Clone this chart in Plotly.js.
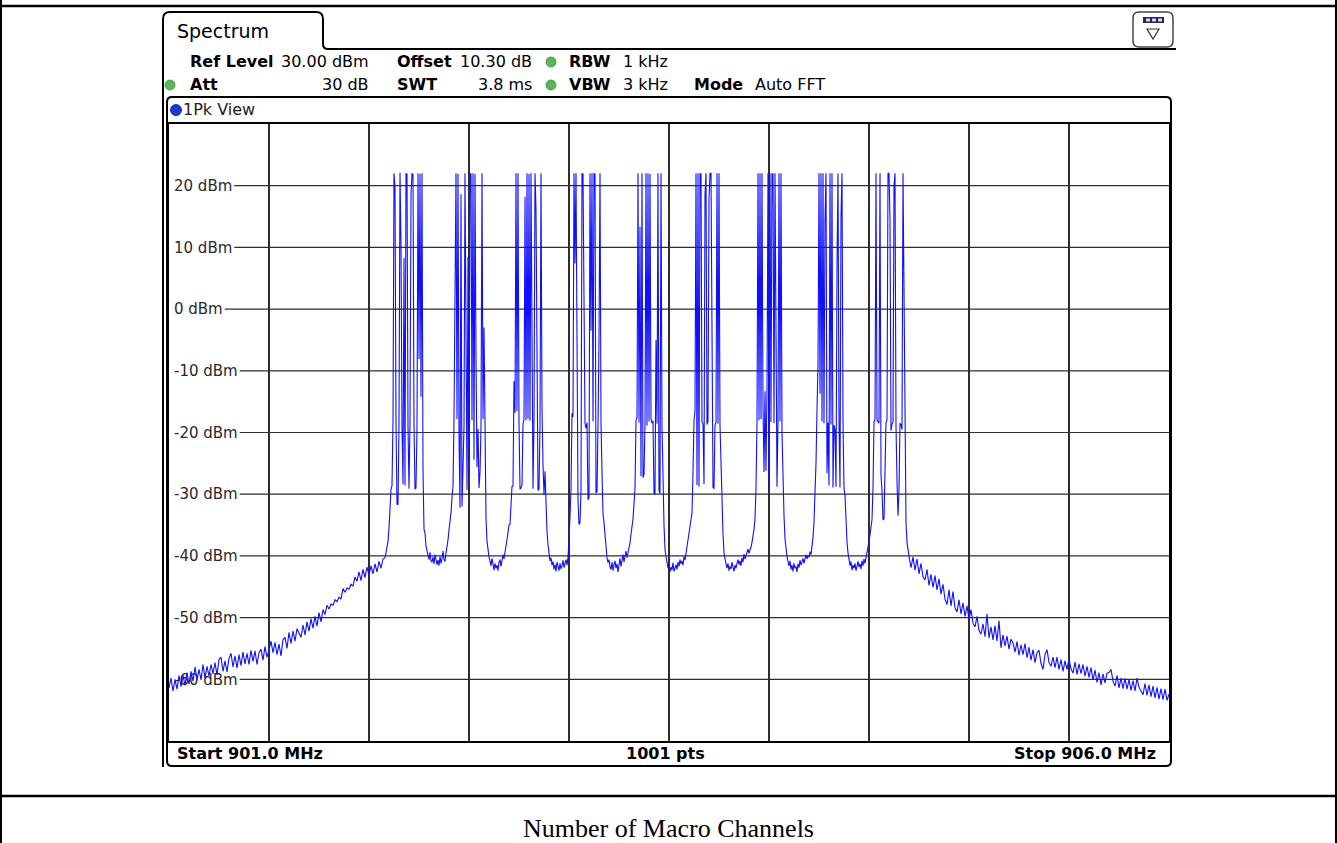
<!DOCTYPE html>
<html>
<head>
<meta charset="utf-8">
<script src="https://cdn.plot.ly/plotly-3.0.1.min.js"></script>
<style>
  html, body { margin: 0; padding: 0; background: #ffffff; }
  #chart { width: 1337px; height: 843px; }
</style>
</head>
<body>
<div id="chart"></div>
<script>
// Sweep settings shown in the analyzer header
const startMHz = 901.0;
const stopMHz = 906.0;
const sweepPoints = 1001;

// Lower skirt: 901.00 .. 902.07 MHz, one reading every 0.01 MHz
const lowSkirtStartMHz = 901.00;
const lowSkirtStepMHz = 0.01;
const lowSkirtDbm = [
  -61.4,-59.8,-61.9,-60.0,-61.6,-59.4,-61.2,-59.3,-61.0,-58.9,
  -60.8,-58.7,-60.3,-58.0,-60.0,-58.4,-60.1,-57.6,-59.8,-57.9,
  -59.5,-57.6,-59.1,-57.3,-59.3,-56.8,-56.4,-58.7,-57.0,-58.8,
  -56.6,-55.8,-58.0,-56.2,-58.2,-56.0,-57.8,-55.6,-57.5,-55.8,
  -57.6,-55.3,-57.1,-55.4,-57.6,-55.7,-55.1,-56.9,-54.7,-56.4,
  -55.3,-53.8,-55.7,-54.0,-56.0,-54.3,-56.2,-53.6,-53.2,-55.0,
  -52.4,-54.2,-52.2,-53.8,-51.8,-52.5,-53.2,-51.2,-52.8,-50.7,
  -52.2,-50.2,-51.7,-49.8,-51.4,-49.2,-50.7,-48.7,-49.5,-48.0,
  -48.6,-47.8,-48.0,-47.1,-47.4,-46.7,-47.0,-45.3,-45.9,-45.2,
  -45.4,-44.6,-44.9,-43.4,-44.1,-42.6,-44.0,-42.2,-43.5,-41.8,
  -43.1,-41.6,-42.9,-41.3,-42.6,-40.9,-42.0,-40.5
];

// Macro-channel band: 902.080 .. 904.700 MHz at the full 0.005 MHz sweep resolution
const bandStartMHz = 902.080;
const bandStepMHz = 0.005;
const bandDbm = [
  -40.3,-39.5,-38.5,-37.6,-35.5,-32.5,-29.2,-28.6,-18.2,22.0,
  19.8,-18.4,-31.6,-31.7,-18.6,22.1,10.2,-19.0,-28.4,8.3,
  -28.6,22.0,21.9,-18.9,-29.1,-18.1,18.6,22.0,21.8,-18.5,
  -29.2,-29.0,-19.3,22.0,-8.1,21.9,-14.2,22.0,-26.0,-35.7,
  -36.3,-38.4,-39.6,-39.9,-40.6,-39.4,-40.8,-41.0,-40.2,-41.3,
  -39.8,-40.9,-41.4,-40.7,-41.6,-40.1,-41.2,-40.4,-39.2,-40.6,
  -40.9,-39.5,-38.6,-37.4,-35.8,-34.6,-33.0,-30.5,-28.7,-17.6,
  -1.2,22.0,-17.8,21.9,-19.8,-32.2,18.6,-32.0,-25.7,-19.1,
  22.0,-18.6,-29.3,8.5,-27.1,22.0,21.9,-18.0,22.0,-24.4,
  21.9,-7.9,-25.6,-19.4,-29.0,-26.5,-19.2,22.0,-17.8,-3.0,
  -25.7,-33.8,-37.6,-39.5,-40.2,-40.8,-41.6,-40.4,-41.9,-42.3,
  -41.2,-42.0,-41.5,-42.4,-41.0,-40.6,-41.7,-40.9,-39.8,-40.5,
  -39.6,-38.5,-37.3,-36.2,-35.0,-34.9,-31.5,-28.7,-28.7,-11.7,
  -16.8,22.0,-16.5,22.0,-18.4,-29.2,-29.0,-28.4,-18.6,-17.9,
  18.2,-18.0,22.0,-17.8,21.9,-18.1,22.0,-18.3,-29.1,-18.0,
  22.0,16.0,-18.6,-29.4,-29.2,-18.7,22.0,-16.3,-25.2,-30.1,
  -26.3,-32.0,-36.0,-38.2,-39.6,-40.8,-40.3,-41.5,-40.9,-42.2,
  -41.4,-42.5,-41.0,-41.8,-42.4,-41.2,-42.1,-41.6,-40.7,-41.9,
  -41.3,-40.6,-41.5,-40.2,-37.8,-33.4,-29.2,-16.9,-17.5,22.0,
  7.4,22.0,-18.6,-30.8,-34.9,-34.6,-29.5,22.0,21.9,-5.9,
  -18.5,-19.3,-18.4,-30.9,-30.5,22.0,-3.5,22.0,-18.2,22.0,
  21.9,-29.8,-29.6,-18.9,-5.0,22.0,-18.4,-26.5,-33.2,-34.6,
  -37.0,-39.5,-40.3,-41.1,-40.6,-41.8,-42.2,-41.0,-42.4,-41.5,
  -40.8,-42.0,-41.3,-42.6,-41.2,-40.4,-41.7,-40.9,-39.8,-41.0,
  -40.1,-39.2,-40.3,-39.6,-38.8,-37.9,-36.5,-35.4,-34.0,-31.6,
  -29.0,-18.0,-17.6,22.0,-18.4,13.3,-27.1,22.0,-27.3,-26.8,
  -18.6,22.0,-18.9,22.0,-18.2,21.9,-17.8,-18.5,-18.1,-29.8,
  -30.0,-5.0,-18.6,22.0,-29.4,-29.9,22.0,-18.8,-29.7,-35.0,
  -39.0,-40.2,-41.5,-42.0,-41.3,-42.6,-41.8,-42.3,-41.1,-42.5,
  -42.0,-41.4,-42.2,-41.0,-41.7,-40.6,-41.3,-40.8,-41.5,-40.1,
  -40.7,-39.6,-39.0,-38.1,-37.0,-36.0,-34.5,-33.0,-26.5,-18.0,
  -16.5,22.0,-28.5,22.0,-28.8,22.0,21.9,-18.3,-18.6,-28.4,
  18.6,22.0,-18.7,-18.2,17.8,22.0,22.0,-18.6,-28.9,-29.1,
  -18.8,-18.4,22.0,-18.6,22.0,-18.9,-26.6,-32.5,-36.5,-39.5,
  -40.8,-41.3,-42.0,-41.2,-42.4,-41.7,-42.1,-41.0,-41.8,-42.5,
  -41.5,-42.0,-41.2,-40.6,-41.4,-40.8,-41.6,-40.3,-41.0,-39.7,
  -40.5,-40.1,-39.4,-38.9,-39.6,-39.0,-38.6,-37.8,-36.9,-35.7,
  -34.0,-29.0,-18.3,22.0,-18.0,22.0,-17.8,22.0,-15.7,-26.4,
  -13.3,-26.2,-13.0,22.0,-28.9,22.0,-18.3,22.0,21.9,-18.5,
  22.0,-18.6,-28.8,-18.4,22.0,-18.2,22.0,-20.0,-29.7,-33.5,
  -37.2,-39.2,-40.1,-40.9,-41.6,-40.8,-42.2,-41.5,-42.5,-41.2,
  -42.0,-41.7,-42.6,-41.3,-41.9,-40.7,-41.5,-41.0,-40.4,-41.2,
  -40.6,-39.8,-40.5,-39.9,-40.2,-39.3,-39.8,-38.6,-37.0,-34.5,
  -30.0,-25.0,-16.3,-9.0,22.0,-13.7,22.0,-18.2,22.0,-18.5,
  14.2,22.0,-26.6,-18.4,-28.6,22.0,-18.7,22.0,-28.9,-18.8,
  -19.5,-28.8,6.6,22.0,-18.1,-28.9,15.0,22.0,-18.2,-29.1,
  -30.2,-34.7,-37.8,-39.5,-40.8,-41.6,-40.9,-42.3,-41.5,-42.0,
  -41.2,-42.4,-41.7,-40.9,-41.8,-41.3,-42.1,-40.8,-41.6,-40.5,
  -41.2,-40.4,-39.8,-38.9,-37.7,-36.6,-35.3,-34.1,-28.9,-18.3,
  -17.9,22.0,-18.0,-18.2,-18.5,22.0,-26.9,-29.5,-34.1,-34.0,
  -26.0,-18.4,-18.0,22.0,22.0,14.6,-19.7,-18.6,-18.4,20.0,
  22.0,-19.0,-27.8,-33.5,-29.2,-18.5,-18.7,-19.5,22.0,-0.7,
  -27.5,-34.6,-37.8,-39.2,-40.1
];

// Upper skirt: 904.71 .. 906.00 MHz, one reading every 0.01 MHz
const highSkirtStartMHz = 904.71;
const highSkirtStepMHz = 0.01;
const highSkirtDbm = [
  -41.9,-40.2,-42.3,-40.5,-42.9,-41.2,-43.4,-43.9,-42.2,-44.8,
  -43.0,-45.1,-43.2,-45.5,-43.7,-46.2,-44.6,-47.0,-47.9,-45.5,
  -48.1,-45.8,-48.4,-49.1,-47.1,-49.4,-47.6,-49.8,-48.1,-50.3,
  -48.7,-50.9,-51.5,-49.8,-52.1,-52.7,-51.0,-53.1,-49.4,-53.3,
  -51.5,-53.6,-51.3,-53.8,-50.5,-54.9,-52.8,-54.6,-53.0,-55.1,
  -53.5,-54.1,-55.6,-53.9,-56.1,-54.4,-56.0,-54.2,-56.5,-54.8,
  -56.9,-55.2,-57.3,-55.7,-55.3,-57.4,-58.4,-56.0,-55.2,-57.3,
  -57.9,-56.4,-58.1,-56.4,-58.4,-56.8,-58.7,-57.0,-58.4,-56.7,
  -58.3,-59.0,-57.2,-59.2,-57.5,-59.1,-57.6,-59.5,-57.9,-59.7,
  -58.1,-60.1,-58.5,-60.5,-58.9,-60.9,-59.1,-60.6,-59.0,-58.9,
  -58.4,-60.3,-61.1,-59.4,-61.4,-59.8,-61.5,-59.9,-61.6,-60.0,
  -61.8,-60.2,-61.9,-59.8,-61.3,-62.0,-62.5,-60.7,-62.6,-60.9,
  -62.8,-61.1,-63.0,-61.3,-63.2,-61.5,-63.3,-61.6,-63.4,-62.4
];

// Level axis: reference level 30 dBm, 10 dB per division
const levelTicksDbm = [-60, -50, -40, -30, -20, -10, 0, 10, 20];
const levelRangeDbm = [-70, 30];

// ---- assemble the 1Pk trace ----
const freq = [];
const level = [];
function addSegment(startF, stepF, values) {
  values.forEach(function (v, i) {
    freq.push(+(startF + i * stepF).toFixed(4));
    level.push(v);
  });
}
addSegment(lowSkirtStartMHz, lowSkirtStepMHz, lowSkirtDbm);
addSegment(bandStartMHz, bandStepMHz, bandDbm);
addSegment(highSkirtStartMHz, highSkirtStepMHz, highSkirtDbm);

// ---- page geometry (pixels) ----
const W = 1337, H = 843;
const PL = 169, PR = 1169, PT = 124, PB = 741;
const px = function (x) { return (x - PL) / (PR - PL); };
const py = function (y) { return (PB - y) / (PB - PT); };

function pathPx(cmds) {
  return cmds.map(function (c) {
    const pts = [];
    for (let i = 1; i < c.length; i += 2) pts.push(px(c[i]).toFixed(5) + ',' + py(c[i + 1]).toFixed(5));
    return c[0] + ' ' + pts.join(' ');
  }).join(' ');
}
function roundRect(x0, y0, x1, y1, r) {
  return pathPx([
    ['M', x0 + r, y0], ['L', x1 - r, y0], ['Q', x1, y0, x1, y0 + r],
    ['L', x1, y1 - r], ['Q', x1, y1, x1 - r, y1],
    ['L', x0 + r, y1], ['Q', x0, y1, x0, y1 - r],
    ['L', x0, y0 + r], ['Q', x0, y0, x0 + r, y0]
  ]) + ' Z';
}
function pathShape(path, color, width, fill) {
  return { type: 'path', xref: 'paper', yref: 'paper', path: path,
    line: { color: color, width: width }, fillcolor: fill || 'rgba(0,0,0,0)', layer: 'above' };
}
function lineShape(x0, y0, x1, y1, color, width) {
  return { type: 'line', xref: 'paper', yref: 'paper', x0: px(x0), y0: py(y0), x1: px(x1), y1: py(y1),
    line: { color: color, width: width }, layer: 'above' };
}
function dot(cx, cy, r, fill, edge) {
  return { type: 'circle', xref: 'paper', yref: 'paper',
    x0: px(cx - r), x1: px(cx + r), y0: py(cy + r), y1: py(cy - r),
    fillcolor: fill, line: { color: edge, width: 0.8 }, layer: 'above' };
}
function rectShape(x0, y0, x1, y1, fill) {
  return { type: 'rect', xref: 'paper', yref: 'paper', x0: px(x0), x1: px(x1), y0: py(y1), y1: py(y0),
    fillcolor: fill, line: { width: 0 }, layer: 'above' };
}

const UI = 'DejaVu Sans, Verdana, sans-serif';
const TICK_SIZE = 15;
function label(text, x, y, anchor, size, color, family) {
  return { xref: 'paper', yref: 'paper', x: px(x), y: py(y), xanchor: anchor, yanchor: 'middle',
    text: text, showarrow: false, borderpad: 0,
    font: { family: family || UI, size: size, color: color || '#000' } };
}

// Level labels sit inside the plot; each horizontal grid line starts where its label ends.
const tickText = levelTicksDbm.map(function (v) { return v + ' dBm'; });
const measure = document.createElement('canvas').getContext('2d');
measure.font = TICK_SIZE + 'px "DejaVu Sans"';
const gridShapes = levelTicksDbm.map(function (v, i) {
  const endPx = PL + 6 + measure.measureText(tickText[i]).width + 1;
  return { type: 'line', xref: 'paper', yref: 'y', x0: px(endPx), x1: 1, y0: v, y1: v,
    line: { color: '#2e2e2e', width: 1.2 }, layer: 'below' };
});

const shapes = gridShapes.concat([
  // table cell borders
  lineShape(1, 0, 1, H, '#000', 2),
  lineShape(1336, 0, 1336, H, '#000', 2),
  lineShape(0, 796, W, 796, '#000', 2.5),
  lineShape(0, 6, W, 6, '#000', 2.5),
  // "Spectrum" tab and panel outline
  pathShape(pathPx([['M', 163, 767], ['L', 163, 19], ['Q', 163, 12, 170, 12], ['L', 316, 12],
    ['Q', 323, 12, 323, 19], ['L', 323, 44], ['Q', 323, 49, 328, 49], ['L', 1176, 49]]), '#000', 2),
  // diagram frame
  pathShape(roundRect(167, 97, 1171, 766, 5), '#000', 2),
  // view-menu button
  pathShape(roundRect(1133, 12, 1173, 47, 6), '#444', 1.5),
  rectShape(1143, 17, 1164, 23, '#23235e'),
  rectShape(1146, 18.5, 1150, 21.5, '#d8d8f0'),
  rectShape(1152, 18.5, 1156, 21.5, '#d8d8f0'),
  rectShape(1158, 18.5, 1162, 21.5, '#d8d8f0'),
  pathShape(pathPx([['M', 1147, 29], ['L', 1159, 29], ['L', 1153, 39]]) + ' Z', '#333', 1.2),
  // status indicators
  dot(551, 62, 5, '#55b955', '#3a8f3a'),
  dot(170, 85, 5, '#55b955', '#3a8f3a'),
  dot(551, 85, 5, '#55b955', '#3a8f3a'),
  dot(176, 110, 5.5, '#1638d8', '#0b1d8a')
]);

const annotations = [
  label('Spectrum', 176, 31, 'left', 19),
  label('<b>Ref Level</b>', 189, 62, 'left', 16),
  label('30.00 dBm', 370, 62, 'right', 16),
  label('<b>Offset</b>', 396, 62, 'left', 16),
  label('10.30 dB', 533, 62, 'right', 16),
  label('<b>RBW</b>', 568, 62, 'left', 16),
  label('1 kHz', 622, 62, 'left', 16),
  label('<b>Att</b>', 189, 85, 'left', 16),
  label('30 dB', 370, 85, 'right', 16),
  label('<b>SWT</b>', 396, 85, 'left', 16),
  label('3.8 ms', 533, 85, 'right', 16),
  label('<b>VBW</b>', 568, 85, 'left', 16),
  label('3 kHz', 622, 85, 'left', 16),
  label('<b>Mode</b>', 693, 85, 'left', 16),
  label('Auto FFT', 754, 85, 'left', 16),
  label('1Pk View', 182, 110, 'left', 16, '#222'),
  label('<b>Start ' + startMHz.toFixed(1) + ' MHz</b>', 176, 753, 'left', 16),
  label('<b>' + sweepPoints + ' pts</b>', 665, 753, 'center', 16),
  label('<b>Stop ' + stopMHz.toFixed(1) + ' MHz</b>', 1157, 753, 'right', 16),
  label('Number of Macro Channels', 668, 828, 'center', 26, '#000', 'Liberation Serif, Times New Roman, serif')
];

const trace = {
  type: 'scatter', mode: 'lines', x: freq, y: level,
  line: { color: '#1010ff', width: 1.1 }, hoverinfo: 'skip'
};

const layout = {
  width: W, height: H,
  margin: { l: PL, r: W - PR, t: PT, b: H - PB, pad: 0 },
  paper_bgcolor: '#ffffff', plot_bgcolor: '#ffffff',
  showlegend: false,
  xaxis: {
    range: [startMHz, stopMHz], tick0: startMHz, dtick: (stopMHz - startMHz) / 10,
    showgrid: true, gridcolor: '#2e2e2e', gridwidth: 1.2,
    showticklabels: false, ticks: '', zeroline: false,
    showline: true, mirror: true, linecolor: '#000', linewidth: 2, layer: 'below traces'
  },
  yaxis: {
    range: levelRangeDbm, tickmode: 'array', tickvals: levelTicksDbm, ticktext: tickText,
    ticklabelposition: 'inside', ticks: '', ticklabelstandoff: 5,
    tickfont: { family: UI, size: TICK_SIZE, color: '#2a2a2a' },
    showgrid: false, zeroline: false,
    showline: true, mirror: true, linecolor: '#000', linewidth: 2, layer: 'below traces'
  },
  shapes: shapes,
  annotations: annotations
};

Plotly.newPlot(document.getElementById('chart'), [trace], layout,
  { staticPlot: true, displayModeBar: false });
</script>
</body>
</html>
